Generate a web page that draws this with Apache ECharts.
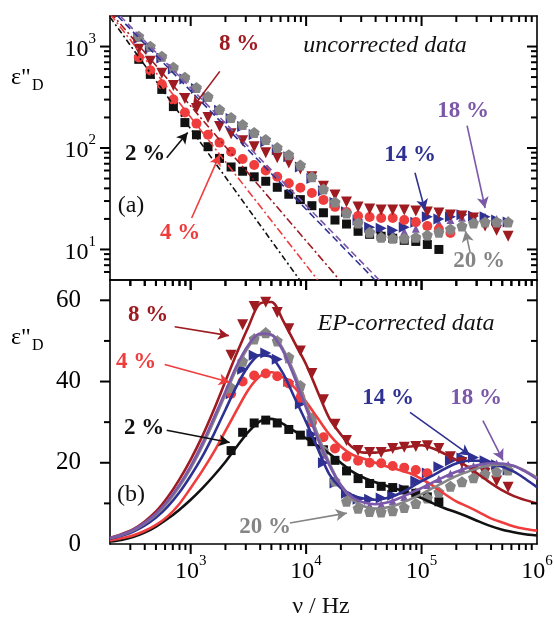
<!DOCTYPE html>
<html>
<head>
<meta charset="utf-8">
<script src="https://cdn.jsdelivr.net/npm/echarts@6/dist/echarts.min.js"></script>
<style>
html, body { margin: 0; padding: 0; background: #fff; }
#chart { width: 554px; height: 620px; }
</style>
</head>
<body>
<div id="chart"></div>
<script>
// measured frequencies, Hz (about 10 per decade)
const freq = [355, 447, 562, 708, 891, 1122, 1413, 1778, 2239, 2818, 3548, 4467, 5623, 7079, 8913,
  11220, 14125, 17783, 22387, 28184, 35481, 44668, 56234, 70795, 89125, 112202, 141254, 177828,
  223872, 281838, 354813, 446684, 562341];
// frequencies of the fit curves in (b)
const fitFreq = [200, 251, 316, 398, 501, 631, 794, 1000, 1259, 1585, 1995, 2512, 3162, 3981, 5012,
  6310, 7943, 10000, 12589, 15849, 19953, 25119, 31623, 39811, 50119, 63096, 79433, 100000, 125893,
  158489, 199526, 251189, 316228, 398107, 501187, 630957, 794328, 1000000];

// (a) uncorrected data
const a2 = [748, 532, 378, 256, 178, 135, 103, 79, 65, 59, 52, 47, 41, 35, 31, 27, 23, 19.5, 17.8, 15.1, 14.1, 13.5, 12.9, 12.3, 12, 11.2, 10];
const a4 = [780, 582, 424, 300, 224, 174, 135, 113, 92, 78, 68, 60, 52, 45, 40.5, 36, 30.8, 26.3, 23.4, 21.4, 20.9, 20.4, 20.4, 19.5, 18.6, 17, 15.9, 14.5];
const a8 = [940, 715, 544, 414, 308, 245, 200, 163, 138, 118, 103, 90, 80, 71, 62, 52, 42, 34.5, 29.4, 26.2, 25, 24.5, 24.5, 24.5, 24, 23.4, 22.9, 21.9, 21.4, 20.4, 17, 15.5, 13.5];
const a14 = [1200, 960, 770, 600, 480, 385, 312, 235, 195, 163, 136, 115, 96, 82, 65, 50, 38, 29, 23.5, 19.5, 16.6, 16.2, 15.5, 16.6, 18.5, 21, 20, 21, 22, 21.4, 21, 19.5, 18.6];
const a18 = [1230, 985, 785, 612, 488, 390, 316, 238, 198, 166, 139, 118, 99, 84, 67, 51, 39, 29.2, 23, 18.8, 15.5, 14.8, 14.5, 15, 16, 17, 18.2, 19.5, 20.5, 21, 21, 20, 19.5];
const a20 = [1265, 1007, 802, 624, 497, 395, 322, 240, 200, 170, 142, 121, 101, 86, 68, 52, 39.5, 29.4, 22.9, 18.2, 14.8, 13.2, 12.9, 12.9, 13.2, 13.9, 14.8, 15.9, 17, 18.2, 18.6, 18.6, 18.6];
// (a) power-law lines, [frequency, value] end points
const pl2 = [[200, 1950], [8800, 5]];
const pl4 = [[200, 2100], [12600, 5]];
const pl8 = [[200, 2200], [19500, 5]];
const pl14 = [[233, 2000], [39500, 5]];
const pl18 = [[245, 2000], [43000, 5]];

// (b) EP-corrected data, starting at freq[8]
const b2 = [23, 27.5, 29.8, 30.5, 29.8, 28.2, 26.8, 25.2, 23.2, 20.6, 18, 16.1, 14.9, 14.2, 13.9, 13.3, 12.5, 11.6, 10.4];
const b4 = [37, 40, 41.5, 42, 41.3, 39.5, 36, 30, 26.3, 23.5, 21.5, 20.5, 20, 19.9, 19.2, 18.8, 18.2, 17.4];
const b8 = [46.5, 54, 58.5, 59.5, 57, 53, 47.5, 42, 35.5, 29.5, 25.5, 23, 22.5, 22.5, 23.5, 23.8, 24, 24.2, 23.5, 21.5, 20, 18, 17.4, 15.5, 14];
const b14 = [37, 43, 46.5, 47, 45.5, 40, 34.5, 27, 20, 15, 12.5, 11, 11, 11.3, 12, 13.5, 15.5, 17.5, 19, 20.5, 21.2, 21.3, 20.5, 19.5, 18.2];
const b18 = [39, 46, 51, 52.5, 50.5, 45.5, 38, 30, 22, 15.5, 11.5, 10, 9.5, 9.8, 10.5, 11.6, 13, 14.5, 16, 17.3, 18.4, 19.2, 19.7, 19.8, 19.5];
const b20 = [38.5, 45, 50.5, 52, 50, 46, 39, 31, 23, 15.5, 10.5, 8.8, 8, 7.9, 8.2, 9, 10, 11.3, 12.8, 14.2, 15.3, 16.3, 17.3, 17.8, 18.2];
// (b) fit curves on fitFreq
const f2 = [0.6, 1.0, 1.7, 2.8, 4.3, 6.2, 8.4, 10.9, 13.7, 16.8, 20.2, 24.0, 27.6, 30.2, 30.8, 29.6, 27.8, 26.0, 24.2, 22.3, 20.0, 17.8, 16.3, 15.2, 14.3, 13.4, 12.5, 11.3, 10.0, 8.8, 7.8, 6.7, 5.5, 4.4, 3.5, 2.9, 2.4, 2.1];
const f4 = [0.9, 1.4, 2.1, 3.2, 4.7, 6.8, 9.8, 13.8, 18.0, 22.6, 27.8, 33.0, 38.0, 41.3, 42.3, 41.0, 38.5, 35.0, 31.0, 27.0, 24.0, 22.0, 21.0, 20.0, 19.1, 18.3, 17.4, 16.0, 14.3, 12.3, 10.5, 9.2, 7.8, 6.3, 5.3, 4.3, 3.7, 3.3];
const f8 = [1.5, 2.4, 3.6, 5.5, 8.0, 11.5, 15.8, 20.8, 26.5, 33.0, 40.0, 47.0, 53.5, 59.2, 59.6, 55.0, 49.6, 44.2, 37.5, 31.0, 27.0, 23.8, 22.5, 22.5, 23.0, 23.6, 24.0, 24.3, 23.5, 22.2, 20.7, 19.0, 17.0, 15.0, 13.2, 11.8, 10.8, 10.0];
const f14 = [1.3, 2.0, 3.0, 4.5, 6.5, 9.2, 12.6, 16.8, 21.5, 27.0, 33.0, 39.0, 43.8, 46.5, 46.0, 42.0, 36.0, 30.0, 23.5, 17.2, 13.8, 12.0, 11.2, 10.9, 11.3, 12.3, 13.8, 15.5, 16.9, 18.5, 19.8, 20.5, 20.5, 20.1, 19.0, 17.8, 16.0, 14.0];
const f18 = [1.5, 2.3, 3.5, 5.2, 7.5, 10.6, 14.5, 19.2, 24.7, 31.0, 37.5, 44.0, 49.0, 51.8, 51.5, 47.5, 41.0, 33.5, 26.0, 19.5, 14.5, 11.5, 10.2, 9.8, 10.2, 11.2, 12.5, 13.8, 15.2, 16.6, 17.8, 18.8, 19.5, 19.9, 19.8, 19.2, 17.8, 16.0];
const f20 = [1.4, 2.2, 3.3, 5.0, 7.2, 10.2, 14.0, 18.6, 24.0, 30.2, 36.8, 43.3, 48.5, 51.5, 51.5, 48.0, 42.0, 34.5, 27.0, 20.0, 14.5, 11.0, 9.3, 8.7, 9.0, 9.8, 11.0, 12.3, 13.8, 15.3, 16.7, 17.8, 18.8, 19.4, 19.6, 19.2, 18.0, 16.3];

// tick values
const xMajor = [1e3, 1e4, 1e5];
const xMinor = [300, 400, 500, 600, 700, 800, 900, 2000, 3000, 4000, 5000, 6000, 7000, 8000, 9000,
  2e4, 3e4, 4e4, 5e4, 6e4, 7e4, 8e4, 9e4, 2e5, 3e5, 4e5, 5e5, 6e5, 7e5, 8e5, 9e5];
const yMajorA = [10, 100, 1000];
const yMinorA = [6, 7, 8, 9, 20, 30, 40, 50, 60, 70, 80, 90, 200, 300, 400, 500, 600, 700, 800, 900];
const yMajorB = [20, 40, 60];
const yMinorB = [10, 30, 50];

// arrows, [frequency, value]
const arrowsA = [
  ['darkred', [1786, 569], [1041, 251]],
  ['black', [620, 80], [942, 142]],
  ['red', [1020, 20.4], [1786, 86]],
  ['blue', [87700, 57], [107000, 24.4]],
  ['purple', [248000, 166], [355000, 25.6]],
  ['grey', [263000, 9.4], [240000, 15.2]]
];
const arrowsB = [
  ['darkred', [727, 53.5], [2140, 51.3]],
  ['red', [596, 44.2], [2180, 39.8]],
  ['black', [620, 28], [2180, 25]],
  ['grey', [7230, 5.15], [22500, 7.6]],
  ['blue', [79400, 32.4], [263000, 21.8]],
  ['purple', [340000, 30.4], [508000, 20.6]]
];

const C = {
  black: '#111111', red: '#ef3d3d', darkred: '#9d1b21',
  blue: '#2f3192', purple: '#7b58a8', grey: '#858585'
};
const FONT = '"Liberation Serif", "Times New Roman", serif';
const pentagon = 'path://M0,-10L9.51,-3.09L5.88,8.09L-5.88,8.09L-9.51,-3.09Z';

function pairs(xs, ys, offset) {
  const out = [];
  ys.forEach((v, i) => { if (v != null) out.push([xs[i + (offset || 0)], v]); });
  return out;
}

function isPow10(v) {
  const l = Math.log10(v);
  return Math.abs(l - Math.round(l)) < 1e-6;
}
const richPow = {
  b: { fontFamily: FONT, fontSize: 24, color: '#000', lineHeight: 30, verticalAlign: 'bottom' },
  s: { fontFamily: FONT, fontSize: 15, color: '#000', lineHeight: 15, verticalAlign: 'top' }
};
function powLabel(v) {
  return isPow10(v) ? '{b|10}{s|' + Math.round(Math.log10(v)) + '}' : '';
}

const grids = [
  { left: 110, top: 16, width: 427, height: 264, outerBoundsMode: 'none', containLabel: false },
  { left: 110, top: 280, width: 427, height: 264, outerBoundsMode: 'none', containLabel: false }
];

function axisLine() {
  return { show: true, onZero: false, lineStyle: { color: '#000', width: 1.6 } };
}
function axis(base, grid, pos, label) {
  return Object.assign({}, base, {
    gridIndex: grid, position: pos, axisLine: axisLine(),
    axisTick: { show: false }, splitLine: { show: false },
    axisLabel: label || { show: false }
  });
}

const logX = { type: 'log', logBase: 10, min: 200, max: 1e6 };
const logYA = { type: 'log', logBase: 10, min: 5, max: 2000 };
const linYB = { type: 'value', min: 0, max: 65, interval: 20 };

const xAxes = [
  axis(logX, 0, 'bottom'), axis(logX, 0, 'top'),
  axis(logX, 1, 'bottom', { show: true, margin: 10, formatter: powLabel, rich: richPow }),
  axis(logX, 1, 'top')
];
const yAxes = [
  axis(logYA, 0, 'left', { show: true, margin: 14, formatter: powLabel, rich: richPow }),
  axis(logYA, 0, 'right'),
  axis(linYB, 1, 'left', { show: true, margin: 29, fontFamily: FONT, fontSize: 25, color: '#000',
    formatter: v => (v % 20 === 0 && v <= 60) ? String(v) : '' }),
  axis(linYB, 1, 'right')
];
// main axis index of each panel
const AX_A = 0, AX_B = 2;

function arrowSeries(ai, list) {
  return {
    type: 'line', xAxisIndex: ai, yAxisIndex: ai, data: [], silent: true,
    markLine: {
      silent: true, symbol: ['none', 'arrow'], symbolSize: [9, 11], animation: false,
      label: { show: false },
      data: list.map(a => [
        { coord: a[1], lineStyle: { color: C[a[0]], width: 1.6, type: 'solid' } },
        { coord: a[2] }
      ])
    },
    z: 8
  };
}

const series = [];
// (a) markers
const markA = [
  [a18, C.purple, 'triangle', 8, 0],
  [a14, C.blue, 'triangle', 11, -90],
  [a2, C.black, 'rect', 9, 0],
  [a4, C.red, 'circle', 10, 0],
  [a8, C.darkred, 'triangle', 11, 180],
  [a20, C.grey, pentagon, 11, 0]
];
markA.forEach(m => series.push({
  type: 'scatter', xAxisIndex: AX_A, yAxisIndex: AX_A, data: pairs(freq, m[0]),
  symbol: m[2], symbolSize: m[3], symbolRotate: m[4], itemStyle: { color: m[1], opacity: 1 }, z: 3
}));
// (a) power-law lines
[[pl2, C.black, [6, 3, 2, 3]], [pl4, C.red, [8, 3, 2, 3]], [pl8, C.darkred, [8, 3, 2, 3]],
 [pl14, C.blue, [7, 4]], [pl18, C.purple, [7, 4]]].forEach(l => series.push({
  type: 'line', xAxisIndex: AX_A, yAxisIndex: AX_A, data: l[0], symbol: 'none', clip: true,
  lineStyle: { color: l[1], width: 1.6, type: l[2] }, z: 4
}));
// (b) markers
const markB = [
  [b18, C.purple, 'triangle', 8, 0],
  [b14, C.blue, 'triangle', 11, -90],
  [b2, C.black, 'rect', 9, 0],
  [b4, C.red, 'circle', 10, 0],
  [b8, C.darkred, 'triangle', 11, 180],
  [b20, C.grey, pentagon, 11, 0]
];
markB.forEach(m => series.push({
  type: 'scatter', xAxisIndex: AX_B, yAxisIndex: AX_B, data: pairs(freq, m[0], 8),
  symbol: m[2], symbolSize: m[3], symbolRotate: m[4], itemStyle: { color: m[1], opacity: 1 }, z: 3
}));
// (b) fit curves
[[f2, C.black], [f4, C.red], [f8, C.darkred], [f14, C.blue], [f20, C.grey], [f18, C.purple]].forEach(l => series.push({
  type: 'line', xAxisIndex: AX_B, yAxisIndex: AX_B, data: pairs(fitFreq, l[0]), symbol: 'none', smooth: 0.3,
  lineStyle: { color: l[1], width: 2.6 }, z: 4
}));
series.push(arrowSeries(AX_A, arrowsA));
series.push(arrowSeries(AX_B, arrowsB));

function txt(x, y, text, color, font) {
  return { type: 'text', x, y, z: 20,
    style: { text, fill: color, font, align: 'center', verticalAlign: 'middle' } };
}
const bold = 'bold 23px ' + FONT;
const ital = 'italic 24px ' + FONT;
const reg = '24px ' + FONT;
const epsRich = {
  e: { fontFamily: FONT, fontSize: 24, color: '#000' },
  d: { fontFamily: FONT, fontSize: 16, color: '#000', padding: [16, 0, 0, 1] }
};
const graphic = [
  { type: 'text', x: 11, y: 62, style: { text: '{e|ε"}{d|D}', rich: epsRich } },
  { type: 'text', x: 11, y: 322, style: { text: '{e|ε"}{d|D}', rich: epsRich } },
  txt(239, 44, '8 %', C.darkred, bold),
  txt(385, 46, 'uncorrected data', '#111', ital),
  txt(463, 111, '18 %', C.purple, bold),
  txt(410, 155, '14 %', C.blue, bold),
  txt(145, 154, '2 %', C.black, bold),
  txt(131, 206, '(a)', '#111', reg),
  txt(180, 233, '4 %', C.red, bold),
  txt(479, 261, '20 %', C.grey, bold),
  txt(148, 315, '8 %', C.darkred, bold),
  txt(406, 324, 'EP-corrected data', '#111', ital),
  txt(136, 362, '4 %', C.red, bold),
  txt(144, 428, '2 %', C.black, bold),
  txt(131, 495, '(b)', '#111', reg),
  txt(265, 527, '20 %', C.grey, bold),
  txt(388, 398, '14 %', C.blue, bold),
  txt(476, 398, '18 %', C.purple, bold),
  txt(321, 607, 'ν / Hz', '#111', reg)
];

const chart = echarts.init(document.getElementById('chart'));
chart.setOption({
  animation: false,
  backgroundColor: '#fff',
  grid: grids,
  xAxis: xAxes,
  yAxis: yAxes,
  series,
  graphic
});

// tick marks placed through the axes' own scales:
// outward on left and bottom, inward on top and right
const ticks = [];
function seg(x1, y1, x2, y2) {
  return { type: 'line', z: 30, silent: true, shape: { x1, y1, x2, y2 },
    style: { stroke: '#000', lineWidth: 2 } };
}
[[AX_A, yMajorA, yMinorA, logX, logYA], [AX_B, yMajorB, yMinorB, logX, linYB]].forEach(([ai, yMaj, yMin, xs, ys]) => {
  const toX = v => chart.convertToPixel({ xAxisIndex: ai }, v);
  const toY = v => chart.convertToPixel({ yAxisIndex: ai }, v);
  const left = toX(xs.min), right = toX(xs.max);
  const top = toY(ys.max), bottom = toY(ys.min);
  [[xMajor, 10], [xMinor, 6]].forEach(([vals, len]) => vals.forEach(v => {
    const x = toX(v);
    ticks.push(seg(x, top, x, top + len), seg(x, bottom, x, bottom + len));
  }));
  [[yMaj, 10], [yMin, 6]].forEach(([vals, len]) => vals.forEach(v => {
    const y = toY(v);
    ticks.push(seg(left - len, y, left, y), seg(right - len, y, right, y));
  }));
});
chart.setOption({ graphic: graphic.concat(ticks) });
</script>
</body>
</html>
